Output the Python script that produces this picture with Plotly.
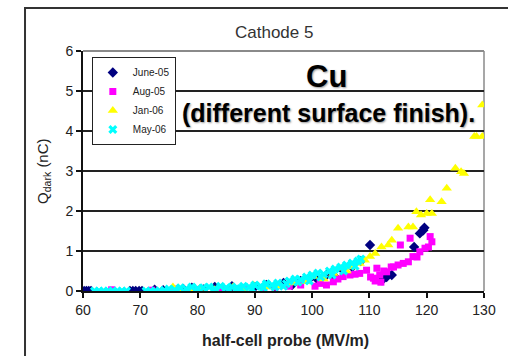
import plotly.graph_objects as go

# ---- data ----
june_x = [60.2, 60.6, 61.0, 61.4, 68.2, 68.7, 69.2, 69.8, 70.3, 72.5, 74.0, 77.5, 79.0, 81.0, 83.0, 84.5,
          86.0, 88.0, 90.0, 92.0, 93.5, 95.0, 96.5, 98.0, 99.5, 101.0, 102.5, 104.0, 105.5, 107.0, 108.5,
          110.1, 112.2, 113.0, 113.9, 117.8, 118.8, 119.4, 119.6]
june_y = [0, 0, 0, 0, 0, 0, 0, 0, 0, 0.03, 0.02, 0.05, 0.08, 0.04, 0.1, 0.06,
          0.12, 0.05, 0.1, 0.15, 0.12, 0.2, 0.15, 0.25, 0.3, 0.28, 0.4, 0.35, 0.5, 0.6, 0.75,
          1.15, 0.27, 0.35, 0.4, 1.1, 1.44, 1.52, 1.58]

aug_x = [65.0, 72.0, 76.0, 80.0, 84.0, 88.0, 91.5, 93.5, 96.0, 98.0, 100.5, 101.4, 102.5, 103.7, 104.5,
         105.4, 106.6, 107.5, 108.3, 109.5, 110.2, 110.7, 111.3, 111.8, 112.5, 113.0, 113.8, 114.2, 115.0,
         115.4, 115.9, 116.8, 117.1, 117.6, 118.3, 118.8, 119.7, 120.3, 120.6, 120.9, 111.0, 112.0]
aug_y = [0.03, 0.02, 0.05, 0.04, 0.06, 0.05, 0.08, 0.1, 0.12, 0.15, 0.12, 0.19, 0.15, 0.23, 0.3,
         0.36, 0.4, 0.42, 0.44, 0.52, 0.35, 0.32, 0.57, 0.4, 0.5, 0.48, 0.6, 0.6, 0.65,
         1.15, 0.69, 0.73, 1.32, 0.86, 0.85, 0.98, 1.07, 1.1, 1.36, 1.23, 0.25, 0.22]

jan_x = [75.7, 76.9, 78.5, 80.4, 83.0, 86.2, 88.0, 89.7, 92.0, 94.5, 96.7, 99.0, 100.2, 102.0, 103.7,
         104.8, 106.0, 107.2, 108.3, 109.2, 110.1, 111.0, 112.1, 113.3, 113.9, 115.0, 116.8, 117.6, 118.2,
         119.0, 120.0, 120.6, 120.9, 122.6, 123.5, 125.0, 126.0, 126.5, 128.3, 128.7, 129.7, 129.7]
jan_y = [0.1, 0.0, 0.05, 0.07, 0.03, 0.1, 0.05, 0.15, 0.1, 0.12, 0.2, 0.23, 0.36, 0.3, 0.44,
         0.57, 0.5, 0.6, 0.69, 0.77, 0.86, 0.94, 1.1, 1.15, 1.27, 1.57, 1.6, 1.6, 1.98,
         1.9, 1.94, 2.28, 1.94, 2.23, 2.57, 3.07, 2.98, 2.94, 3.86, 3.86, 3.86, 4.65]

may_x = [62.0, 62.8, 63.6, 64.4, 65.2, 66.0, 66.8, 67.6, 71.0, 71.8, 72.6, 73.4, 74.2, 75.0, 76.0, 77.0,
         78.0, 79.0, 80.0, 81.0, 82.0, 83.0, 84.0, 85.0, 86.0, 87.0, 88.0, 89.0, 90.0, 91.0, 92.0, 93.0,
         94.0, 95.0, 96.0, 97.0, 98.0, 99.0, 100.0, 101.0, 102.0, 103.0, 104.0, 105.0, 106.0, 107.0, 108.0,
         108.5, 99.5, 101.5, 103.5, 105.5, 107.5, 97.5, 95.5, 93.5, 91.5, 89.5, 87.5, 85.5]
may_y = [0, 0, 0, 0, 0, 0, 0, 0, 0, 0, 0, 0, 0.02, 0.05, 0.03, 0.08,
         0.05, 0.1, 0.06, 0.08, 0.1, 0.05, 0.12, 0.08, 0.1, 0.06, 0.12, 0.1, 0.15, 0.12, 0.18, 0.15,
         0.2, 0.12, 0.25, 0.3, 0.28, 0.35, 0.4, 0.45, 0.42, 0.5, 0.55, 0.6, 0.65, 0.7, 0.75,
         0.8, 0.25, 0.35, 0.4, 0.5, 0.62, 0.22, 0.18, 0.1, 0.08, 0.05, 0.06, 0.03]

series_names = ["June-05", "Aug-05", "Jan-06", "May-06"]
x_ticks = [60, 70, 80, 90, 100, 110, 120, 130]
y_ticks = [0, 1, 2, 3, 4, 5, 6]

FONT = "Liberation Sans, Arial, sans-serif"

fig = go.Figure()
fig.add_trace(go.Scatter(x=june_x, y=june_y, mode="markers", name=series_names[0],
                         marker=dict(symbol="diamond", size=8, color="#000080")))
fig.add_trace(go.Scatter(x=aug_x, y=aug_y, mode="markers", name=series_names[1],
                         marker=dict(symbol="square", size=7, color="#FF00FF")))
fig.add_trace(go.Scatter(x=jan_x, y=jan_y, mode="markers", name=series_names[2],
                         marker=dict(symbol="triangle-up", size=9, color="#FFFF00")))
fig.add_trace(go.Scatter(x=may_x, y=may_y, mode="markers", name=series_names[3],
                         marker=dict(symbol="x", size=8, color="#00FFFF")))

W, H = 508, 356
L, R, T, B = 83, 24, 51, 65

fig.update_layout(
    width=W, height=H,
    margin=dict(l=L, r=R, t=T, b=B, pad=0),
    paper_bgcolor="white", plot_bgcolor="white",
    font=dict(family=FONT, color="#222"),
    showlegend=True,
    legend=dict(x=0.022, y=0.975, xanchor="left", yanchor="top",
                bgcolor="white", bordercolor="#222", borderwidth=1,
                font=dict(size=10, family=FONT, color="#222"),
                itemwidth=30, tracegroupgap=0),
    xaxis=dict(range=[60, 130], tickvals=x_ticks, showgrid=False, zeroline=False,
               showline=True, linecolor="#111", linewidth=2, ticks="outside", ticklen=5,
               tickcolor="#111", tickwidth=1.5, tickfont=dict(size=14, color="#222")),
    yaxis=dict(range=[0, 6], tickvals=y_ticks, showgrid=True, gridcolor="#222", gridwidth=1.5,
               zeroline=False, showline=True, linecolor="#111", linewidth=2, ticks="outside",
               ticklen=5, tickcolor="#111", tickwidth=1.5, tickfont=dict(size=14, color="#222")),
)

# plot-area frame (grey top / right)
fig.add_shape(type="line", xref="paper", yref="paper", x0=0, y0=1, x1=1, y1=1,
              line=dict(color="#8a8a8a", width=2), layer="above")
fig.add_shape(type="line", xref="paper", yref="paper", x0=1, y0=0, x1=1, y1=1,
              line=dict(color="#8a8a8a", width=1.5), layer="below")
# outer chart frame, extending past the picture edges
fig.add_shape(type="rect", xref="paper", yref="paper", x0=-0.1446, y0=-0.45, x1=1.3, y1=1.179,
              line=dict(color="#333", width=2))

fig.add_annotation(text="Cathode 5", xref="paper", yref="paper", x=0.476, y=1.079,
                   xanchor="center", yanchor="middle",
                   showarrow=False, font=dict(size=17, color="#333", family=FONT))
fig.add_annotation(text="Q<sub>dark</sub> (nC)", xref="paper", yref="paper", x=-0.1, y=0.5,
                   xanchor="center", yanchor="middle",
                   textangle=-90, showarrow=False,
                   font=dict(size=15, color="#222", family=FONT))
fig.add_annotation(text="<b>half-cell probe (MV/m)</b>", xref="paper", yref="paper", x=0.504,
                   y=-0.208, xanchor="center", yanchor="middle",
                   showarrow=False, font=dict(size=16, color="#222", family=FONT))
fig.add_annotation(text="<b>Cu</b>", xref="paper", yref="paper", x=0.608, y=0.892,
                   xanchor="center", yanchor="middle", showarrow=False,
                   font=dict(size=31, color="black", family=FONT, shadow="1px 1px 2px #999"))
fig.add_annotation(text="<b>(different surface finish).</b>", xref="paper", yref="paper",
                   x=0.612, y=0.742, xanchor="center", yanchor="middle", showarrow=False,
                   font=dict(size=25, color="black", family=FONT, shadow="1px 1px 2px #999"))

fig.write_html("out.html")
